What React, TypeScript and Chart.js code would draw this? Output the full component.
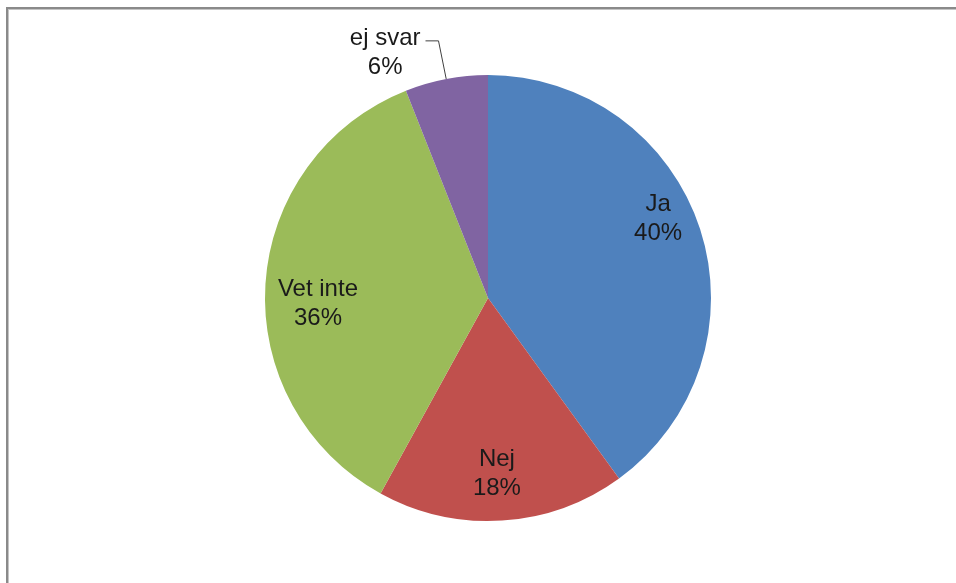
import React, { useEffect, useRef } from "react";
import { Chart, registerables } from "chart.js";

Chart.register(...registerables);

const categories = ["Ja", "Nej", "Vet inte", "ej svar"];
const values = [40, 18, 36, 6];
const percentLabels = ["40%", "18%", "36%", "6%"];
const colors = ["#4F81BD", "#C0504D", "#9BBB59", "#8064A2"];

// label layout: radial fraction of outer radius and angle shift (degrees) from the slice's mid angle
const labelRadius = [0.841, 0.79, 0.763, 1.19];
const labelShift = [-6.9, 0.7, -5.6, -12];
const labelOutside = [false, false, false, true];

const FONT = "24px 'Liberation Sans', Arial, sans-serif";
const LINE = 29;

const labelPlugin = {
  id: "sliceLabels",
  afterDatasetsDraw(chart: any) {
    const ctx = chart.ctx;
    const meta = chart.getDatasetMeta(0);
    ctx.save();
    ctx.font = FONT;
    ctx.fillStyle = "#1a1a1a";
    ctx.textAlign = "center";
    ctx.textBaseline = "middle";
    meta.data.forEach((arc: any, i: number) => {
      const p = arc.getProps(["x", "y", "startAngle", "endAngle", "outerRadius"], true);
      const mid = (p.startAngle + p.endAngle) / 2;
      const a = mid + (labelShift[i] * Math.PI) / 180;
      const d = p.outerRadius * labelRadius[i];
      const cx = p.x + Math.cos(a) * d;
      const cy = p.y + Math.sin(a) * d;
      ctx.fillText(categories[i], cx, cy - LINE / 2);
      ctx.fillText(percentLabels[i], cx, cy + LINE / 2);
      if (labelOutside[i]) {
        const w = ctx.measureText(categories[i]).width;
        const sx = cx + w / 2 + 5;
        const sy = cy - LINE / 2 + 2;
        const ex = p.x + Math.cos(mid) * p.outerRadius;
        const ey = p.y + Math.sin(mid) * p.outerRadius;
        ctx.strokeStyle = "#404040";
        ctx.lineWidth = 1;
        ctx.beginPath();
        ctx.moveTo(sx, sy);
        ctx.lineTo(sx + 13, sy);
        ctx.lineTo(ex, ey);
        ctx.stroke();
      }
    });
    ctx.restore();
  },
};

export default function App() {
  const ref = useRef<HTMLCanvasElement>(null);
  useEffect(() => {
    if (!ref.current) return;
    const chart = new Chart(ref.current, {
      type: "pie",
      data: {
        labels: categories,
        datasets: [
          {
            data: values,
            backgroundColor: colors,
            borderWidth: 0,
          },
        ],
      },
      options: {
        animation: false,
        responsive: false,
        layout: { padding: { top: 75, bottom: 62, left: 265, right: 245 } },
        plugins: {
          legend: { display: false },
          tooltip: { enabled: false },
        },
      },
      plugins: [labelPlugin],
    });
    return () => chart.destroy();
  }, []);
  return (
    <div
      style={{
        position: "absolute",
        left: 0,
        top: 0,
        width: 956,
        height: 583,
        overflow: "hidden",
        background: "#fff",
      }}
    >
      <div
        style={{
          position: "absolute",
          left: 6,
          top: 7,
          width: 1200,
          height: 900,
          borderLeft: "2px solid #8a8a8a",
          borderTop: "2px solid #8a8a8a",
          boxShadow: "inset 1px 1px 0 #c4c4c4",
        }}
      />
      <canvas
        ref={ref}
        width={956}
        height={583}
        style={{ position: "absolute", left: 0, top: 0, width: 956, height: 583 }}
      />
    </div>
  );
}
